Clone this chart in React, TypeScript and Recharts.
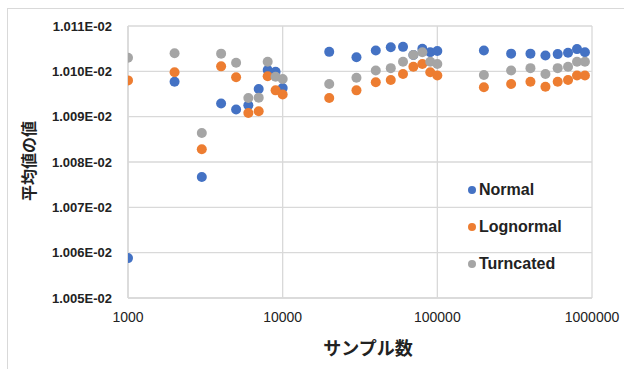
import { CartesianGrid, Legend, Scatter, ScatterChart, XAxis, YAxis } from "recharts";

const sampleSizes = [
  1000, 2000, 3000, 4000, 5000, 6000, 7000, 8000, 9000,
  10000, 20000, 30000, 40000, 50000, 60000, 70000, 80000, 90000,
  100000, 200000, 300000, 400000, 500000, 600000, 700000, 800000, 900000,
];

// mean values, in units of 1e-2
const normal = [
  1.00588, 1.00977, 1.00767, 1.00929, 1.00916, 1.00925, 1.00961, 1.01003, 1.00999,
  1.00963, 1.01043, 1.01031, 1.01046, 1.01053, 1.01054, 1.01036, 1.0105, 1.01042,
  1.01045, 1.01046, 1.01039, 1.01039, 1.01035, 1.01038, 1.01041, 1.01049, 1.01042,
];
const lognormal = [
  1.0098, 1.00998, 1.00828, 1.01011, 1.00987, 1.00908, 1.00912, 1.00989, 1.00958,
  1.00949, 1.00941, 1.00958, 1.00976, 1.00981, 1.00994, 1.0101, 1.01016, 1.00998,
  1.00991, 1.00965, 1.00972, 1.00977, 1.00966, 1.00977, 1.00981, 1.00991, 1.00991,
];
const truncated = [
  1.0103, 1.0104, 1.00864, 1.01039, 1.01019, 1.00941, 1.00942, 1.01021, 1.00988,
  1.00983, 1.00972, 1.00986, 1.01002, 1.01007, 1.01021, 1.01036, 1.01042, 1.01021,
  1.01016, 1.00992, 1.01002, 1.01007, 1.00994, 1.01007, 1.0101, 1.01021, 1.01021,
];

const xTicks = [1000, 10000, 100000, 1000000];
const yTicks = [1.005e-2, 1.006e-2, 1.007e-2, 1.008e-2, 1.009e-2, 1.01e-2, 1.011e-2];

const series = [
  { name: "Normal", values: normal, color: "#4472C4" },
  { name: "Lognormal", values: lognormal, color: "#ED7D31" },
  { name: "Turncated", values: truncated, color: "#A5A5A5" },
];

const toPoints = (values: number[]) =>
  sampleSizes.map((n, i) => ({ n, v: values[i] * 1e-2 }));

const latin = "'Liberation Sans', Arial, sans-serif";
const cjk = "'Noto Sans CJK JP', sans-serif";

function Dot(color: string) {
  return (props: any) => <circle cx={props.cx} cy={props.cy} r={5} fill={color} />;
}

function LegendBox() {
  return (
    <div style={{ fontFamily: latin, fontWeight: "bold", fontSize: 16, color: "#222" }}>
      {series.map((s) => (
        <div key={s.name} style={{ display: "flex", alignItems: "center", height: 37 }}>
          <span
            style={{
              width: 8,
              height: 8,
              borderRadius: 4,
              background: s.color,
              display: "inline-block",
              marginRight: 3,
            }}
          />
          {s.name}
        </div>
      ))}
    </div>
  );
}

export default function App() {
  return (
    <div
      style={{
        position: "absolute",
        left: 0,
        top: 0,
        width: 624,
        height: 369,
        overflow: "hidden",
        background: "#fff",
      }}
    >
      <div
        style={{
          position: "absolute",
          left: 7,
          top: 8,
          width: 700,
          height: 400,
          border: "1px solid #d9d9d9",
        }}
      />
      <ScatterChart
        width={624}
        height={369}
        margin={{ top: 26, right: 32, left: 0, bottom: 0 }}
        style={{ position: "absolute", left: 0, top: 0 }}
      >
        <CartesianGrid stroke="#d9d9d9" strokeWidth={1.3} />
        <XAxis
          type="number"
          dataKey="n"
          scale="log"
          domain={[1000, 1000000]}
          ticks={xTicks}
          interval={0}
          allowDataOverflow
          axisLine={{ stroke: "#d9d9d9", strokeWidth: 1.5 }}
          tickLine={false}
          tickMargin={8}
          height={71}
          tick={{ fill: "#222", fontSize: 14, fontFamily: latin }}
        />
        <YAxis
          type="number"
          dataKey="v"
          domain={[1.005e-2, 1.011e-2]}
          ticks={yTicks}
          interval={0}
          allowDataOverflow
          width={128}
          axisLine={{ stroke: "#d9d9d9", strokeWidth: 1.5 }}
          tickLine={false}
          tickMargin={10}
          tickFormatter={(v: number) => `${(v * 100).toFixed(3)}E-02`}
          tick={{ fill: "#222", fontSize: 13, fontWeight: "bold", fontFamily: latin }}
        />
        {series.map((s) => (
          <Scatter
            key={s.name}
            name={s.name}
            data={toPoints(s.values)}
            fill={s.color}
            shape={Dot(s.color)}
            isAnimationActive={false}
          />
        ))}
        <Legend
          layout="vertical"
          align="center"
          verticalAlign="middle"
          content={() => <LegendBox />}
          wrapperStyle={{ position: "absolute", left: 468, top: 171, width: 140 }}
        />
      </ScatterChart>
      <div
        style={{
          position: "absolute",
          left: 28,
          top: 161,
          transform: "translate(-50%, -50%) rotate(-90deg)",
          whiteSpace: "nowrap",
          fontFamily: cjk,
          fontWeight: "bold",
          fontSize: 16,
          color: "#222",
        }}
      >
        平均値の値
      </div>
      <div
        style={{
          position: "absolute",
          left: 368,
          top: 347,
          transform: "translate(-50%, -50%)",
          whiteSpace: "nowrap",
          fontFamily: cjk,
          fontWeight: "bold",
          fontSize: 18,
          color: "#222",
        }}
      >
        サンプル数
      </div>
    </div>
  );
}
